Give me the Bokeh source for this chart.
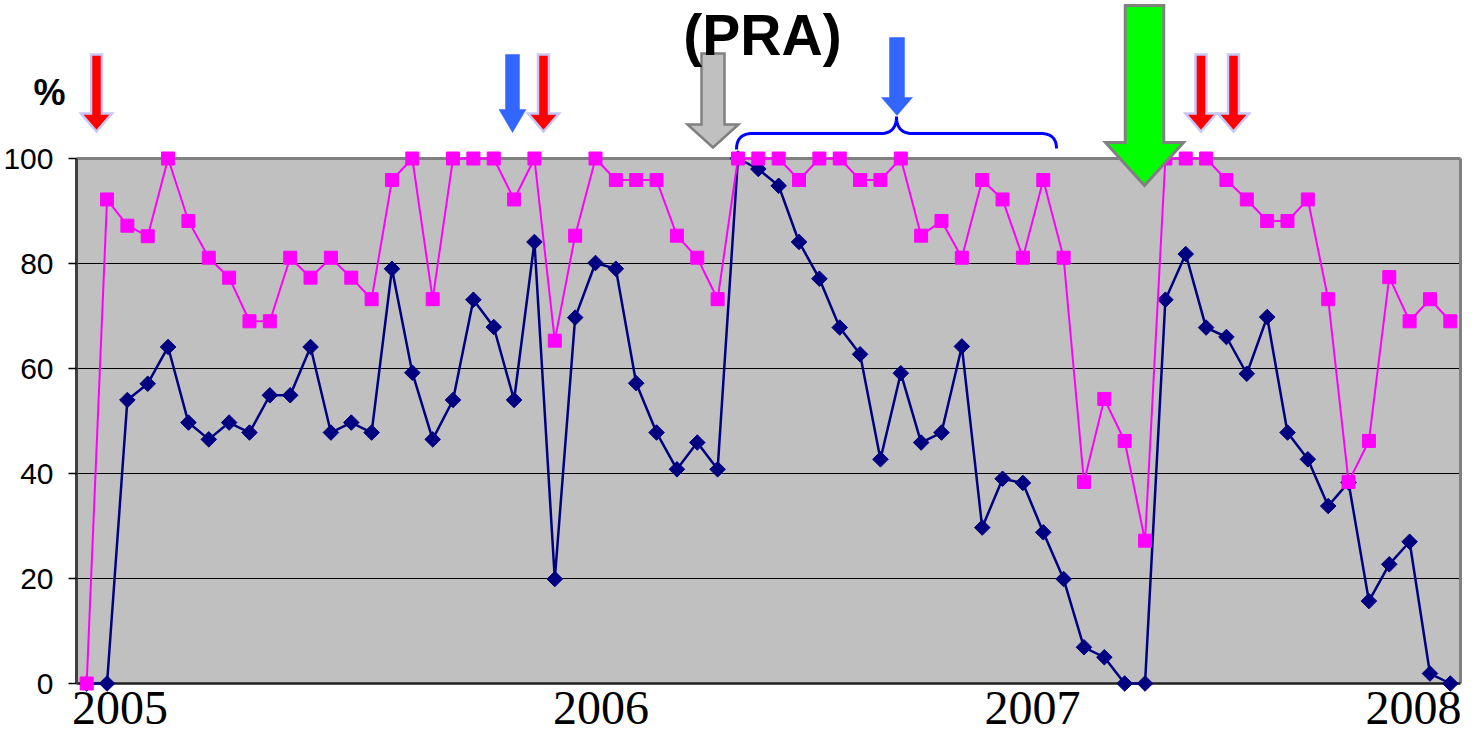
import numpy as np
from bokeh.plotting import figure
from bokeh.models import Range1d, FixedTicker
from bokeh.core.properties import value
from bokeh.embed import file_html
from bokeh.resources import INLINE

# ---------------- data ----------------
POINT_INDEX = list(range(68))
SERIES_PINK = [0, 92.2, 87.2, 85.2, 100, 88.1, 81.1, 77.3, 69.0, 69.0,
               81.1, 77.3, 81.1, 77.3, 73.2, 95.9, 100, 73.2, 100, 100,
               100, 92.2, 100, 65.3, 85.3, 100, 95.9, 95.9, 95.9, 85.3,
               81.1, 73.2, 100, 100, 100, 95.9, 100, 100, 95.9, 95.9,
               100, 85.3, 88.1, 81.1, 95.9, 92.2, 81.1, 95.9, 81.1, 38.4,
               54.2, 46.2, 27.2, 100, 100, 100, 95.9, 92.2, 88.1, 88.1,
               92.2, 73.2, 38.4, 46.2, 77.4, 69.0, 73.2, 69.0]
SERIES_NAVY = [0, 0, 54.0, 57.1, 64.1, 49.7, 46.5, 49.7, 47.8, 54.9,
               54.9, 64.1, 47.8, 49.7, 47.8, 79.0, 59.2, 46.5, 54.0, 73.1,
               67.9, 54.0, 84.1, 19.9, 69.7, 80.1, 79.0, 57.2, 47.8, 40.8,
               45.9, 40.8, 100, 98.0, 94.8, 84.1, 77.1, 67.8, 62.7, 42.7,
               59.1, 45.9, 47.8, 64.2, 29.7, 39.0, 38.2, 28.8, 19.9, 6.9,
               5.0, 0, 0, 73.1, 81.8, 67.8, 66.0, 59.0, 69.8, 47.8,
               42.7, 33.8, 38.3, 15.7, 22.7, 27.0, 1.9, 0]
Y_TICKS = [0, 20, 40, 60, 80, 100]
GRID_VALUES = [20, 40, 60, 80]
YEAR_LABELS = ["2005", "2006", "2007", "2008"]
YEAR_POSITIONS = [1.64, 25.27, 46.47, 65.19]   # in category units

# ---------------- layout helpers (page pixel -> data) ----------------
FIG_W, FIG_H = 1465, 734
PX_CAT = 20.353
PX_VAL = 5.25
ORIG_X = 84.0   # page x of category -0.5
ORIG_Y = 691.0  # page y of value 0
PAGE_OFF = 8


def X(px):
    return (px - ORIG_X) / PX_CAT - 0.5


def Y(py):
    return (ORIG_Y - py) / PX_VAL


p = figure(width=FIG_W, height=FIG_H,
           x_range=Range1d(X(PAGE_OFF), X(PAGE_OFF + FIG_W)),
           y_range=Range1d(Y(PAGE_OFF + FIG_H), Y(PAGE_OFF)),
           output_backend="svg", toolbar_location=None,
           x_axis_location=None,
           min_border_left=0, min_border_right=0,
           min_border_top=0, min_border_bottom=0,
           outline_line_color=None,
           background_fill_color="white", border_fill_color="white")

p.grid.grid_line_color = None

n = len(POINT_INDEX)
left_edge, right_edge = -0.5, n - 0.5

ax = p.yaxis[0]
ax.fixed_location = left_edge
ax.bounds = (0, 100)
ax.ticker = FixedTicker(ticks=Y_TICKS)
ax.major_label_text_font = "Liberation Sans"
ax.major_label_text_font_size = "30px"
ax.major_label_text_color = "black"
ax.major_label_standoff = 15
ax.major_tick_out = 8
ax.major_tick_in = 0
ax.minor_tick_out = 0
ax.minor_tick_in = 0
ax.major_tick_line_color = "black"
ax.major_tick_line_width = 1.5
ax.axis_line_color = "#404040"
ax.axis_line_width = 3

# plot area
p.quad(left=[left_edge], right=[right_edge], bottom=[0], top=[100],
       fill_color="#c0c0c0", line_color=None, level="underlay")
p.segment(x0=[left_edge] * len(GRID_VALUES), x1=[right_edge] * len(GRID_VALUES),
          y0=GRID_VALUES, y1=GRID_VALUES, line_color="black", line_width=1.2,
          level="underlay")
p.segment(x0=[left_edge], x1=[right_edge], y0=[100], y1=[100],
          line_color="#808080", line_width=3)
p.segment(x0=[right_edge], x1=[right_edge], y0=[0], y1=[100],
          line_color="#808080", line_width=3)
p.segment(x0=[left_edge], x1=[right_edge], y0=[0], y1=[0],
          line_color="#202020", line_width=2.5)

# series
p.line(POINT_INDEX, SERIES_NAVY, line_color="#000080", line_width=2.5)
p.scatter(POINT_INDEX, SERIES_NAVY, marker="square", angle=np.pi / 4, size=11,
          fill_color="#000080", line_color="#000080")
p.line(POINT_INDEX, SERIES_PINK, line_color="#ff00ff", line_width=2)
p.scatter(POINT_INDEX, SERIES_PINK, marker="square", size=13,
          fill_color="#ff00ff", line_color="#ff00ff")

# block arrows (page-pixel geometry: tip x, top y, head base y, tip y, shaft w, head w)
ARROWS = [
    dict(x=104, top=62, base=121, tip=139, sw=11, hw=31, fill="#ff0000", line="#c8c8f8", lw=2.5),
    dict(x=520, top=62, base=117, tip=140, sw=14, hw=27, fill="#3366ff", line="#3366ff", lw=0.5),
    dict(x=551, top=62, base=121, tip=139, sw=11, hw=31, fill="#ff0000", line="#c8c8f8", lw=2.5),
    dict(x=720.5, top=61, base=132, tip=155, sw=23, hw=51, fill="#c0c0c0", line="#808080", lw=2.5),
    dict(x=904.5, top=45, base=105, tip=123, sw=15, hw=31, fill="#3366ff", line="#3366ff", lw=0.5),
    dict(x=1152, top=13, base=150, tip=193, sw=38.5, hw=78, fill="#00ff00", line="#808080", lw=3),
    dict(x=1208.5, top=62, base=121, tip=139, sw=11, hw=31, fill="#ff0000", line="#c8c8f8", lw=2.5),
    dict(x=1241, top=62, base=121, tip=139, sw=11, hw=31, fill="#ff0000", line="#c8c8f8", lw=2.5),
]
xs, ys, fills, lines, lws = [], [], [], [], []
for a in ARROWS:
    cx, s, h = a["x"], a["sw"] / 2, a["hw"] / 2
    px = [cx - s, cx + s, cx + s, cx + h, cx, cx - h, cx - s]
    py = [a["top"], a["top"], a["base"], a["base"], a["tip"], a["base"], a["base"]]
    xs.append([X(v) for v in px])
    ys.append([Y(v) for v in py])
    fills.append(a["fill"])
    lines.append(a["line"])
    lws.append(a["lw"])
p.patches(xs, ys, fill_color=fills, line_color=lines, line_width=lws,
          line_join="miter")


# curly brace
def qbez(p0, c, p1, k=16):
    t = np.linspace(0, 1, k)
    bx = (1 - t) ** 2 * p0[0] + 2 * (1 - t) * t * c[0] + t ** 2 * p1[0]
    by = (1 - t) ** 2 * p0[1] + 2 * (1 - t) * t * c[1] + t ** 2 * p1[1]
    return list(bx), list(by)


bx, by = [], []
for seg in [((744, 157), (744, 141), (760, 141)),
            ((888, 141), (904, 141), (904, 124)),
            ((904, 124), (904, 141), (920, 141)),
            ((1048, 141), (1064, 141), (1064, 156))]:
    sx, sy = qbez(*seg)
    bx += sx
    by += sy
p.line([X(v) for v in bx], [Y(v) for v in by], line_color="#0000ff", line_width=3)

# texts
p.text(x=[X(57)], y=[Y(100)], text=["%"], text_font=value("Liberation Sans"),
       text_font_style="bold", text_font_size="36px", text_align="center",
       text_baseline="alphabetic", text_color="black")
p.text(x=[X(770)], y=[Y(42)], text=["(PRA)"], text_font=value("Liberation Sans"),
       text_font_style="bold", text_font_size="57px", text_align="center",
       text_baseline="alphabetic", text_color="black")
p.text(x=YEAR_POSITIONS, y=[Y(715)] * len(YEAR_LABELS), text=YEAR_LABELS,
       text_font=value("Liberation Serif"), text_font_size="48px",
       text_align="center", text_baseline="alphabetic", text_color="black")

open("out.html", "w").write(file_html(p, INLINE))
